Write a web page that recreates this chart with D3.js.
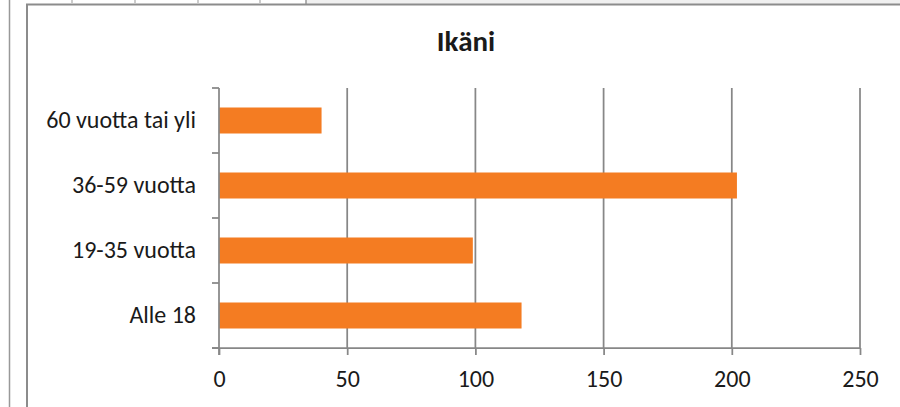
<!DOCTYPE html>
<html><head><meta charset="utf-8">
<script src="https://cdn.jsdelivr.net/npm/d3@7"></script>
<style>
html,body{margin:0;padding:0;background:#fff;}
svg{display:block;}
text{font-family:Carlito,"Open Sans",sans-serif;fill:#1a1a1a;}
</style></head>
<body>
<script>
const title = "Ikäni";
const categories = ["60 vuotta tai yli", "36-59 vuotta", "19-35 vuotta", "Alle 18"];
const values = [40, 202, 99, 118];
const xTicks = [0, 50, 100, 150, 200, 250];

const W = 900, H = 407;
const svg = d3.select("body").append("svg").attr("width", W).attr("height", H);
const grey = "#878787";
const FONT = 'Carlito,"Open Sans",sans-serif';

// surrounding window decorations
svg.append("rect").attr("x", 306).attr("y", 0).attr("width", W - 306).attr("height", 4).attr("fill", "#f0f0f0");
svg.append("line").attr("x1", 9.5).attr("x2", 9.5).attr("y1", 0).attr("y2", H).attr("stroke", "#999").attr("stroke-width", 1.5);
[72, 135, 198, 260].forEach(x => svg.append("line").attr("x1", x).attr("x2", x).attr("y1", 0).attr("y2", 3).attr("stroke", "#999").attr("stroke-width", 1));
svg.append("line").attr("x1", 306).attr("x2", 306).attr("y1", 0).attr("y2", 5).attr("stroke", "#999").attr("stroke-width", 1.5);
// chart border
svg.append("path").attr("d", `M27,${H} V4.5 H${W}`).attr("fill", "none").attr("stroke", "#8c8c8c").attr("stroke-width", 2);

const m = {left: 219, right: 860, top: 88, bottom: 348};
const x = d3.scaleLinear().domain([0, 250]).range([m.left, m.right]);
const y = d3.scaleBand().domain(categories).range([m.top, m.bottom]).paddingInner(0.6).paddingOuter(0.3);

// title
svg.append("text").attr("x", 466).attr("y", 51).attr("text-anchor", "middle")
  .style("font-weight", "bold").style("font-size", "29px").text(title);

// gridlines
svg.append("g").selectAll("line").data(xTicks.slice(1)).join("line")
  .attr("x1", d => x(d)).attr("x2", d => x(d)).attr("y1", m.top).attr("y2", m.bottom)
  .attr("stroke", grey).attr("stroke-width", 1.75);

// bars
svg.append("g").selectAll("rect").data(categories).join("rect")
  .attr("x", x(0)).attr("y", d => y(d))
  .attr("width", (d, i) => x(values[i]) - x(0)).attr("height", y.bandwidth())
  .attr("fill", "#f47c22");

// x axis
const xAxis = d3.axisBottom(x).tickValues(xTicks).tickSize(7).tickPadding(15).tickSizeOuter(0);
const gx = svg.append("g").attr("transform", `translate(0,${m.bottom})`).call(xAxis);
gx.select(".domain").remove();
gx.append("line").attr("x1", 212).attr("x2", m.right).attr("stroke", grey).attr("stroke-width", 1.75);
gx.selectAll(".tick line").attr("stroke", grey).attr("stroke-width", 1.75);
gx.selectAll(".tick text").style("font-size", "24px").attr("fill", "#1a1a1a").style("font-family", FONT);

// y axis
const yAxis = d3.axisLeft(y).tickSize(0).tickPadding(23);
const gy = svg.append("g").attr("transform", `translate(${m.left},0)`).call(yAxis);
gy.select(".domain").remove();
gy.append("line").attr("y1", m.top).attr("y2", m.bottom + 7).attr("stroke", grey).attr("stroke-width", 1.75);
const bounds = d3.range(categories.length + 1).map(i => m.top + i * (m.bottom - m.top) / categories.length);
gy.selectAll(".bnd").data(bounds).join("line").attr("class", "bnd")
  .attr("x1", -7).attr("x2", 0).attr("y1", d => d).attr("y2", d => d)
  .attr("stroke", grey).attr("stroke-width", 1.75);
gy.selectAll(".tick text").style("font-size", "24px").attr("fill", "#1a1a1a").style("font-family", FONT);
</script>
</body></html>
